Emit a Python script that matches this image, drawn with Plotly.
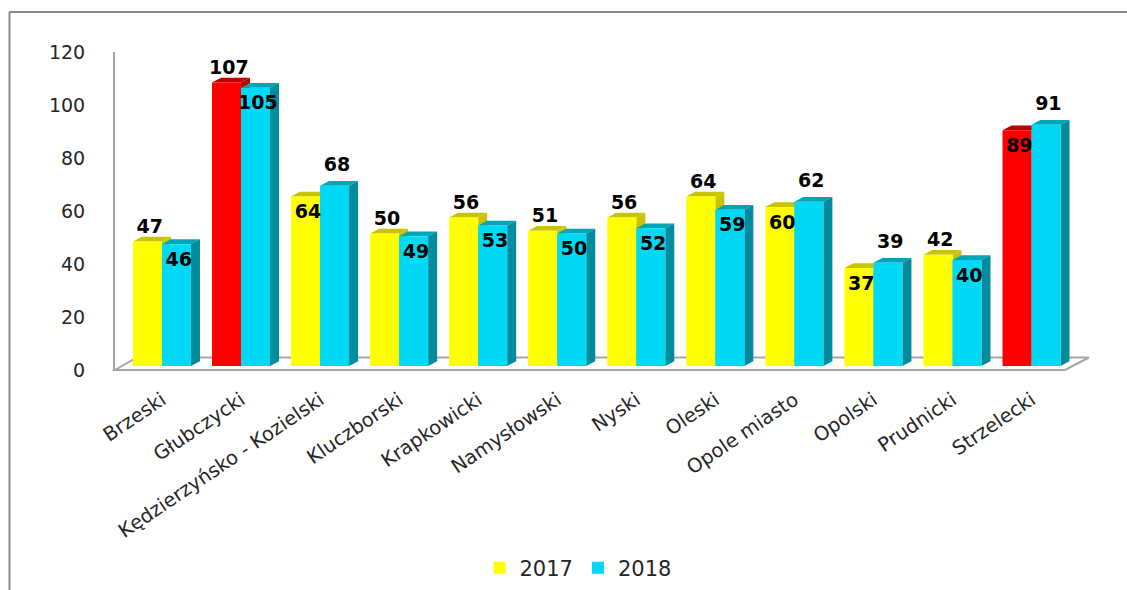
"""Powiaty comparison 2017/2018 - bar chart with a drawn 3D look."""

import plotly.graph_objects as go

CATEGORIES = ["Brzeski", "Głubczycki", "Kędzierzyńsko - Kozielski", "Kluczborski", "Krapkowicki",
              "Namysłowski", "Nyski", "Oleski", "Opole miasto", "Opolski", "Prudnicki", "Strzelecki"]
VALUES_2017 = [47, 107, 64, 50, 56, 51, 56, 64, 60, 37, 42, 89]
VALUES_2018 = [46, 105, 68, 49, 53, 50, 52, 59, 62, 39, 40, 91]
HIGHLIGHT_2017 = ["Głubczycki", "Strzelecki"]  # drawn red in the source
LABEL_INSIDE_2017 = ["Kędzierzyńsko - Kozielski", "Opole miasto", "Opolski", "Strzelecki"]
LABEL_ABOVE_2018 = ["Kędzierzyńsko - Kozielski", "Opole miasto", "Opolski", "Strzelecki"]
Y_TICKS = [0, 20, 40, 60, 80, 100, 120]

YELLOW, YELLOW_DARK = "#ffff00", "#c8c400"
RED, RED_DARK = "#ff0000", "#c00000"
CYAN, CYAN_TOP, CYAN_SIDE = "#00d9f5", "#00a5b8", "#008c9c"
GREY = "#a6a6a6"

BAR_W = 0.367
DEPTH_X = 0.114
DEPTH_Y = 1.8
GAP_ABOVE_2017 = 1.5
GAP_ABOVE_2018 = 3.8
GAP_INSIDE = 2.8

# plot box in page pixels
LEFT, RIGHT, TOP, BOTTOM = 115, 1090, 52, 370
PLOT_W = RIGHT - LEFT
PLOT_H = BOTTOM - TOP

xs = list(range(len(CATEGORIES)))


def px_x(p):
    return (p - LEFT) / PLOT_W


def px_y(p):
    return (BOTTOM - p) / PLOT_H


def poly(points, color, xref="x", yref="y2"):
    path = "M" + " L".join(f"{a},{b}" for a, b in points) + " Z"
    return dict(type="path", path=path, xref=xref, yref=yref, fillcolor=color,
                line=dict(width=0), layer="below")


def faces(left, value, top_color, side_color):
    """Top and right side of one bar, worked out from its value."""
    right = left + BAR_W
    return [
        poly([(left, value), (left + DEPTH_X, value + DEPTH_Y),
              (right + DEPTH_X, value + DEPTH_Y), (right, value)], top_color),
        poly([(right, 0), (right + DEPTH_X, DEPTH_Y),
              (right + DEPTH_X, value + DEPTH_Y), (right, value)], side_color),
    ]


colors_2017 = [RED if c in HIGHLIGHT_2017 else YELLOW for c in CATEGORIES]

shapes = [
    # outer frame
    dict(type="line", xref="paper", yref="paper", x0=px_x(9.5), x1=px_x(9.5), y0=px_y(590), y1=px_y(12),
         line=dict(color="#8c8c8c", width=2), layer="below"),
    dict(type="line", xref="paper", yref="paper", x0=px_x(9), x1=px_x(1127), y0=px_y(12), y1=px_y(12),
         line=dict(color="#8c8c8c", width=2), layer="below"),
    # floor
    dict(type="path", xref="paper", yref="paper", layer="below", fillcolor="white",
         line=dict(color=GREY, width=2),
         path=f"M{px_x(115)},{px_y(370)} L{px_x(1065)},{px_y(370)} L{px_x(1089)},{px_y(357.5)} "
              f"L{px_x(137)},{px_y(357.5)} Z"),
]
for x, v, c in zip(xs, VALUES_2017, colors_2017):
    shapes += faces(x - BAR_W, v, RED_DARK if c == RED else YELLOW_DARK, RED_DARK if c == RED else YELLOW_DARK)
for x, v in zip(xs, VALUES_2018):
    shapes += faces(x, v, CYAN_TOP, CYAN_SIDE)

fig = go.Figure()
fig.add_trace(go.Bar(x=xs, y=VALUES_2017, name="2017", width=BAR_W, offset=-BAR_W, yaxis="y2",
                     marker=dict(color=colors_2017, line=dict(width=0))))
fig.add_trace(go.Bar(x=xs, y=VALUES_2018, name="2018", width=BAR_W, offset=0, yaxis="y2",
                     marker=dict(color=CYAN, line=dict(width=0))))

label_font = dict(family="DejaVu Sans", size=19, color="black", weight="bold")
inside_2017 = [c in LABEL_INSIDE_2017 for c in CATEGORIES]
above_2018 = [c in LABEL_ABOVE_2018 for c in CATEGORIES]
fig.add_trace(go.Scatter(
    x=[x - BAR_W / 2 + 0.03 for x in xs],
    y=[v - GAP_INSIDE if ins else v + GAP_ABOVE_2017 for v, ins in zip(VALUES_2017, inside_2017)],
    yaxis="y2", mode="text", text=VALUES_2017, textfont=label_font, showlegend=False,
    textposition=["bottom center" if ins else "top center" for ins in inside_2017],
))
fig.add_trace(go.Scatter(
    x=[x + BAR_W / 2 + 0.03 for x in xs],
    y=[v + GAP_ABOVE_2018 if up else v - GAP_INSIDE for v, up in zip(VALUES_2018, above_2018)],
    yaxis="y2", mode="text", text=VALUES_2018, textfont=label_font, showlegend=False,
    textposition=["top center" if up else "bottom center" for up in above_2018],
))
# empty trace so the front value axis is drawn
fig.add_trace(go.Scatter(x=[xs[0]], y=[Y_TICKS[0]], mode="markers", marker=dict(opacity=0), showlegend=False))

fig.update_layout(
    width=1127,
    height=590,
    margin=dict(l=LEFT, r=1127 - RIGHT, t=TOP, b=590 - BOTTOM, autoexpand=False),
    paper_bgcolor="white",
    plot_bgcolor="rgba(0,0,0,0)",
    barmode="overlay",
    shapes=shapes,
    font=dict(family="DejaVu Sans", color="#262626"),
    xaxis=dict(
        range=[-0.594, 11.74],
        tickmode="array", tickvals=xs, ticktext=CATEGORIES, tickangle=-34,
        tickfont=dict(family="DejaVu Sans", size=19.5, color="#262626"),
        ticks="outside", ticklen=10, tickcolor="rgba(0,0,0,0)",
        showgrid=False, zeroline=False, showline=False,
    ),
    yaxis=dict(
        range=[0, 120], tickmode="array", tickvals=Y_TICKS,
        tickfont=dict(family="DejaVu Sans", size=19, color="#262626"),
        ticks="outside", ticklen=24, tickcolor="rgba(0,0,0,0)",
        showgrid=False, zeroline=False, showline=True, linecolor=GREY, linewidth=2,
    ),
    # bars stand a little behind the front edge of the floor
    yaxis2=dict(range=[-1.5, 118.5], overlaying="y", side="left", visible=False),
    legend=dict(orientation="h", x=px_x(578), xanchor="center", y=px_y(568), yanchor="middle",
                font=dict(family="DejaVu Sans", size=21, color="#262626"), bgcolor="rgba(0,0,0,0)"),
)

fig.write_html("out.html", post_script="document.body.style.margin='0';",
               config=dict(displayModeBar=False))
